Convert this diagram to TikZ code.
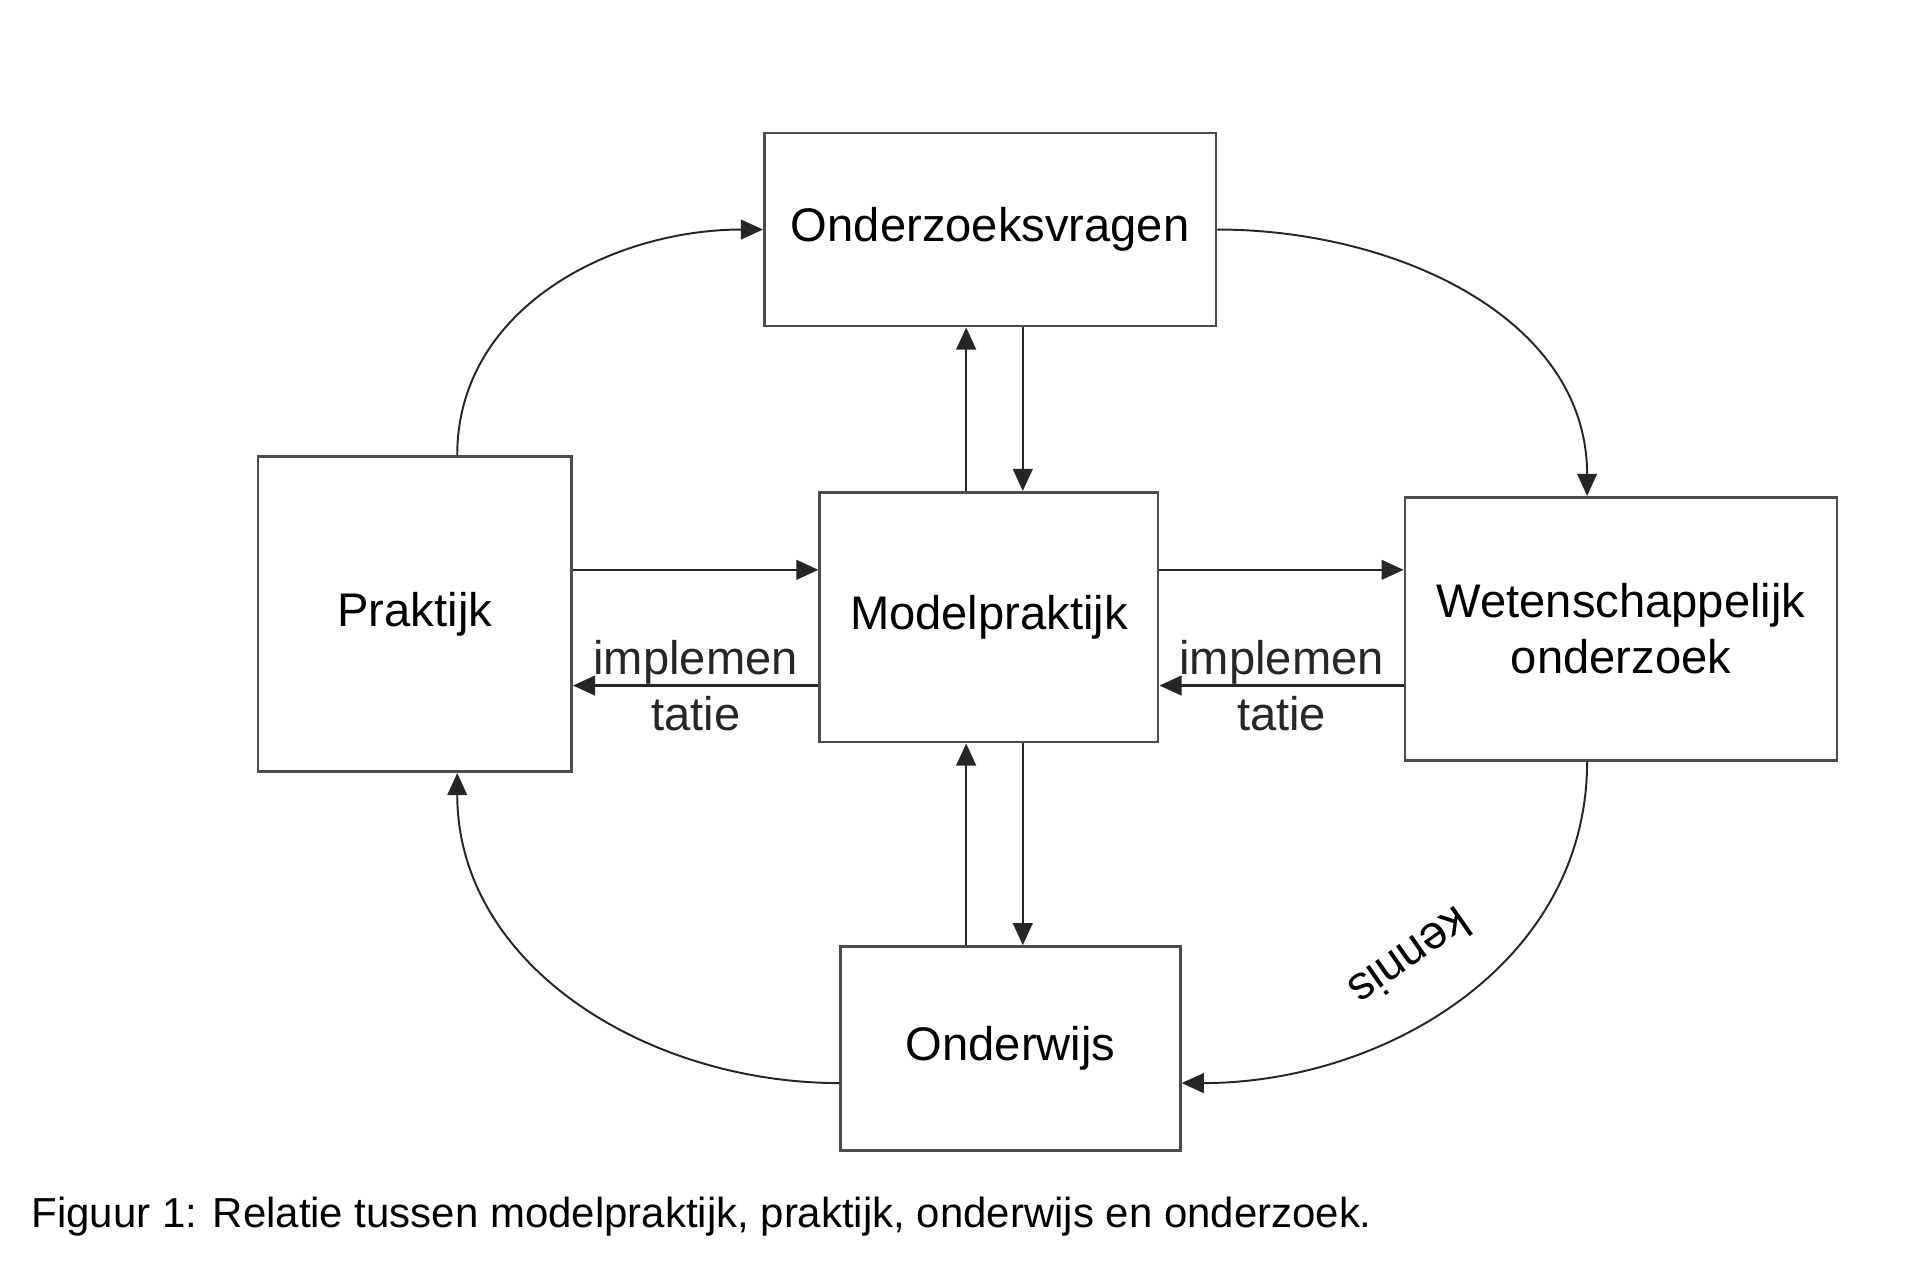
\documentclass[tikz,border=0pt]{standalone}
\usepackage{fontspec}
\setmainfont{Liberation Sans}
\usetikzlibrary{arrows.meta}
\tikzset{
  blok/.style={draw=black!70, line width=0.6pt, inner sep=0pt, align=center,
    font=\fontsize{10.9}{13}\selectfont},
  pijl/.style={-{Triangle[length=1.8mm,width=1.6mm]}, line width=0.55pt, black!85},
  boog/.style={pijl, line width=0.45pt},
  label/.style={font=\fontsize{10.9}{13}\selectfont, inner sep=0pt}
}

\begin{document}
\begin{tikzpicture}
  \useasboundingbox (0, 0) rectangle (15.6, 10.42);

  \node[blok, minimum width=3.67cm, minimum height=1.57cm] (vragen) at (8.045, 8.555) {Onderzoeksvragen};
  \node[blok, minimum width=2.55cm, minimum height=2.56cm] (praktijk) at (3.37, 5.43) {Praktijk};
  \node[blok, minimum width=2.75cm, minimum height=2.03cm] (model) at (8.035, 5.405) {Modelpraktijk};
  \node[blok, minimum width=3.51cm, minimum height=2.14cm] (weten) at (13.17, 5.31) {Wetenschappelijk\\onderzoek};
  \node[blok, minimum width=2.76cm, minimum height=1.66cm] (onderwijs) at (8.21, 1.90) {Onderwijs};

  % horizontale pijlen
  \coordinate (h1) at ([yshift=3.85mm]model.west);
  \coordinate (h2) at ([yshift=-5.55mm]model.west);
  \coordinate (h3) at ([yshift=3.85mm]model.east);
  \coordinate (h4) at ([yshift=-5.55mm]model.east);
  \draw[pijl] (h1 -| praktijk.east) -- (h1);
  \draw[pijl] (h2) -- node[label, align=center] (impl1) {implemen\\tatie} (h2 -| praktijk.east);
  \draw[pijl] (h3) -- (h3 -| weten.west);
  \draw[pijl] (h4 -| weten.west) -- node[label, align=center] (impl2) {implemen\\tatie} (h4);

  % verticale pijlen
  \coordinate (v1) at ([xshift=-1.85mm]model.north);
  \coordinate (v2) at ([xshift=2.75mm]model.north);
  \coordinate (v3) at ([xshift=-1.85mm]model.south);
  \coordinate (v4) at ([xshift=2.75mm]model.south);
  \draw[pijl] (v1) -- (v1 |- vragen.south);
  \draw[pijl] (v2 |- vragen.south) -- (v2);
  \draw[pijl] (v3 |- onderwijs.north) -- (v3);
  \draw[pijl] (v4) -- (v4 |- onderwijs.north);

  % bogen
  \draw[boog] ([xshift=3.45mm]praktijk.north) to[out=90, in=180] (vragen.west);
  \draw[boog] (vragen.east) to[out=0, in=90] ([xshift=-2.75mm]weten.north);
  \draw[boog] ([xshift=-2.75mm]weten.south) to[out=-90, in=0] ([yshift=-2.8mm]onderwijs.east);
  \draw[boog] ([yshift=-2.8mm]onderwijs.west) to[out=180, in=-90] ([xshift=3.45mm]praktijk.south);
  \node[label, rotate=215] (kennis) at (11.46, 2.64) {kennis};

  \node[anchor=base west, inner sep=0pt, font=\fontsize{9.7}{12}\selectfont] (bijschrift) at (0.25, 0.45)
    {Figuur 1: Relatie tussen modelpraktijk, praktijk, onderwijs en onderzoek.};
\end{tikzpicture}
\end{document}
